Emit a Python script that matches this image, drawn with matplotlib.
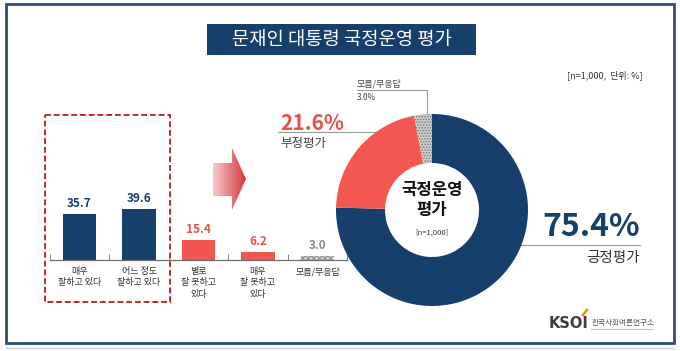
import numpy as np
import matplotlib
matplotlib.use("Agg")
import matplotlib.pyplot as plt
from matplotlib.patches import Rectangle, Polygon

plt.rcParams["font.family"] = ["Noto Sans CJK KR", "DejaVu Sans"]
plt.rcParams["hatch.linewidth"] = 0.8

# data
categories = ["매우\n잘하고 있다", "어느 정도\n잘하고 있다", "별로\n잘 못하고\n있다",
              "매우\n잘 못하고\n있다", "모름/무응답"]
values = [35.7, 39.6, 15.4, 6.2, 3.0]
donut_labels = ["긍정평가", "부정평가", "모름/무응답"]
donut_values = [75.4, 21.6, 3.0]

NAVY = "#173f6b"
RED = "#f0554f"
GRAY = "#b0b0b0"
bar_colors = [NAVY, NAVY, RED, RED, GRAY]
label_colors = [NAVY, NAVY, "#e8504b", "#e8504b", "#8a8a8a"]

fig = plt.figure(figsize=(6.8, 3.51), dpi=100)

# background layer (pixel coords, y down)
bg = fig.add_axes([0, 0, 1, 1], zorder=0)
bg.set_xlim(0, 680)
bg.set_ylim(351, 0)
bg.axis("off")

bg.add_patch(Rectangle((6, 4), 668, 339, fill=False, ec="#2e4d7e", lw=2))
bg.plot([6, 674], [348, 348], color="#cfcfcf", lw=1)

# title
bg.add_patch(Rectangle((207, 24), 269, 31, fc=NAVY, ec="none"))
bg.text(341.5, 39.5, "문재인 대통령 국정운영 평가", color="white", fontsize=13.5,
        ha="center", va="center")
bg.text(643, 75, "[n=1,000,  단위: %]", color="#333333", fontsize=6.5,
        ha="right", va="center")

# dashed box round positive answers
bg.add_patch(Rectangle((45, 115), 125, 187, fill=False, ec="#c3282e",
                       ls=(0, (3, 1.5)), lw=1.4))

# gradient arrow
arrow_pts = [(213, 163), (232, 163), (232, 148), (246, 179),
             (232, 210), (232, 196), (213, 196)]
arr = Polygon(arrow_pts, closed=True, fc="none", ec="none")
bg.add_patch(arr)
grad = np.linspace(0, 1, 100).reshape(1, -1)
cmap = matplotlib.colors.LinearSegmentedColormap.from_list("g", ["#f7c9c9", "#d4383e"])
im = bg.imshow(grad, cmap=cmap, extent=(213, 246, 210, 148), aspect="auto", zorder=1)
im.set_clip_path(arr)
bg.set_xlim(0, 680)
bg.set_ylim(351, 0)

# donut side labels
lc = "#9a9a9a"
bg.text(280, 123, f"{donut_values[1]}%", color="#ea4f4b", fontsize=15,
        fontweight="bold", ha="left", va="center")
bg.plot([278, 385, 385], [132, 132, 140], color=lc, lw=0.8)
bg.text(280, 143, donut_labels[1], color="#444444", fontsize=9, ha="left", va="center")

bg.text(640, 227, f"{donut_values[0]}%", color=NAVY, fontsize=23,
        fontweight="bold", ha="right", va="center")
bg.plot([517, 640], [245, 245], color=lc, lw=0.8)
bg.text(640, 258, donut_labels[0], color="#333333", fontsize=10.5, ha="right", va="center")

bg.text(357, 84, donut_labels[2], color="#444444", fontsize=6.5, ha="left", va="center")
bg.text(357, 97, f"{donut_values[2]}%", color="#444444", fontsize=6, ha="left", va="center")
bg.plot([357, 427, 427], [90, 90, 125], color=lc, lw=0.8)

# logo
bg.text(588, 323, "KSOI", color="#3d3d3d", fontsize=10.5, fontweight="bold",
        ha="right", va="center", family="DejaVu Sans")
bg.plot([583, 587], [315, 310], color="#f08a1c", lw=1.8)
bg.text(592, 323, "한국사회여론연구소", color="#555555", fontsize=5.5,
        ha="left", va="center")
bg.plot([591, 653], [329, 329], color="#bdbdbd", lw=0.8)

# bar chart
ax = fig.add_axes([49.75 / 680, (351 - 260) / 351, 297.5 / 680, 64 / 351], zorder=1)
ax.patch.set_alpha(0)
x = np.arange(len(values))
bars = ax.bar(x, values, width=0.57, color=bar_colors)
bars[-1].set_hatch("xxxxxx")
bars[-1].set_edgecolor("#8c8c8c")
bars[-1].set_facecolor("#d6d6d6")
bars[-1].set_linewidth(0)
for xi, v, c in zip(x, values, label_colors):
    ax.text(xi, v + 3, f"{v}", ha="center", va="bottom", fontsize=8.5,
            fontweight="bold", color=c)
ax.set_xlim(-0.5, len(values) - 0.5)
ax.set_ylim(0, 50)
for s in ["top", "right", "left"]:
    ax.spines[s].set_visible(False)
ax.spines["bottom"].set_color("#6e6e6e")
ax.spines["bottom"].set_linewidth(0.9)
ax.set_yticks([])
ax.set_xticks(x)
ax.set_xticklabels(categories, fontsize=6.5, color="#333333", linespacing=1.35)
ax.tick_params(axis="x", which="major", length=0, pad=5)
ax.set_xticks(np.arange(-0.5, len(values)), minor=True)
ax.tick_params(axis="x", which="minor", length=4, direction="in", color="#6e6e6e")

# donut
axd = fig.add_axes([(432 - 100) / 680, (351 - 210 - 100) / 351, 200 / 680, 200 / 351], zorder=1)
axd.patch.set_alpha(0)
wedges, _ = axd.pie(donut_values, colors=[NAVY, "#f25750", "#cfcfcf"], startangle=90,
                    counterclock=False, radius=0.96,
                    wedgeprops=dict(width=0.49, linewidth=0))
wedges[2].set_hatch("......")
wedges[2].set_edgecolor("#7a7a7a")
axd.set_xlim(-1, 1)
axd.set_ylim(-1, 1)
axd.set_aspect("equal")
axd.text(0, 0.1, "국정운영\n평가", ha="center", va="center", fontsize=12,
         fontweight="bold", color="#111111", linespacing=1.1)
axd.text(0, -0.23, "[n=1,000]", ha="center", va="center", fontsize=5.5, color="#333333")

fig.savefig("out.png", dpi=100, facecolor="white")
